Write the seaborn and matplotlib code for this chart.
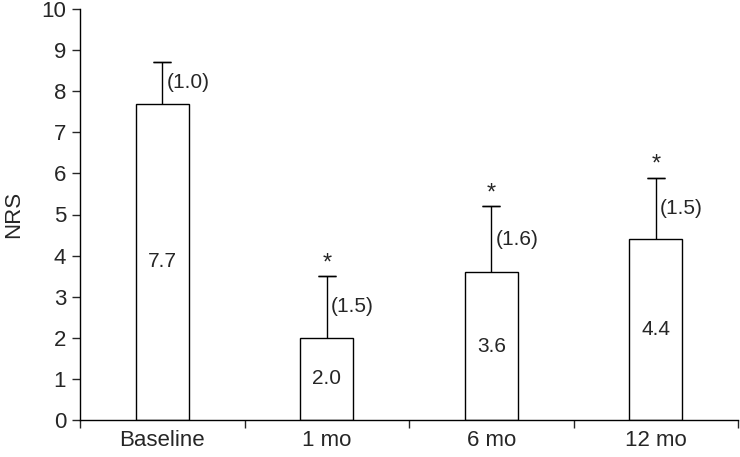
import matplotlib
matplotlib.use('Agg')
import matplotlib.pyplot as plt
import seaborn as sns
import pandas as pd

# data
groups = ['Baseline', '1 mo', '6 mo', '12 mo']
nrs_mean = [7.7, 2.0, 3.6, 4.4]
nrs_sd = [1.0, 1.5, 1.6, 1.5]
signif = [False, True, True, True]

df = pd.DataFrame({'group': groups, 'NRS': nrs_mean, 'sd': nrs_sd})

sns.set_style('ticks')
plt.rcParams['font.family'] = ['Liberation Sans', 'DejaVu Sans']

fig = plt.figure(figsize=(7.4, 4.57), dpi=100)
ax = fig.add_axes([80 / 740, 37 / 457, 658 / 740, 411 / 457])

sns.barplot(data=df, x='group', y='NRS', color='white', edgecolor='black',
            linewidth=1.0, width=0.32, ax=ax)

xs = list(range(len(groups)))
# upper-only error bars
tops = [m + s for m, s in zip(nrs_mean, nrs_sd)]
ax.vlines(xs, nrs_mean, tops, colors='black', linewidth=1.0)
ax.errorbar(xs, tops, yerr=0, fmt='none', ecolor='black', elinewidth=0,
            capsize=6.5, capthick=1.0)

for x, m, s, star in zip(xs, nrs_mean, nrs_sd, signif):
    ax.text(x, m / 2, f'{m:.1f}', ha='center', va='center', fontsize=15)
    ax.text(x + 0.025, m + s / 2, f'({s:.1f})', ha='left', va='center', fontsize=15)
    if star:
        ax.text(x, m + s + 0.05, '*', ha='center', va='bottom', fontsize=17)

ax.set_xlim(-0.5, 3.5)
ax.set_ylim(0, 10)
ax.set_yticks(range(0, 11))
ax.set_ylabel('NRS', fontsize=16, labelpad=12)
ax.set_xlabel('')
ax.set_xticks(xs)
ax.set_xticklabels(groups)
ax.set_xticks([-0.5, 0.5, 1.5, 2.5, 3.5], minor=True)
ax.tick_params(axis='x', which='major', length=0, pad=7, labelsize=16)
ax.tick_params(axis='x', which='minor', length=6, width=1.0, direction='out')
ax.tick_params(axis='y', length=6, width=1.0, direction='out', labelsize=16, pad=4)

for side in ['top', 'right']:
    ax.spines[side].set_visible(False)
for side in ['left', 'bottom']:
    ax.spines[side].set_linewidth(1.0)
    ax.spines[side].set_color('black')

fig.savefig('out.png', dpi=100)
